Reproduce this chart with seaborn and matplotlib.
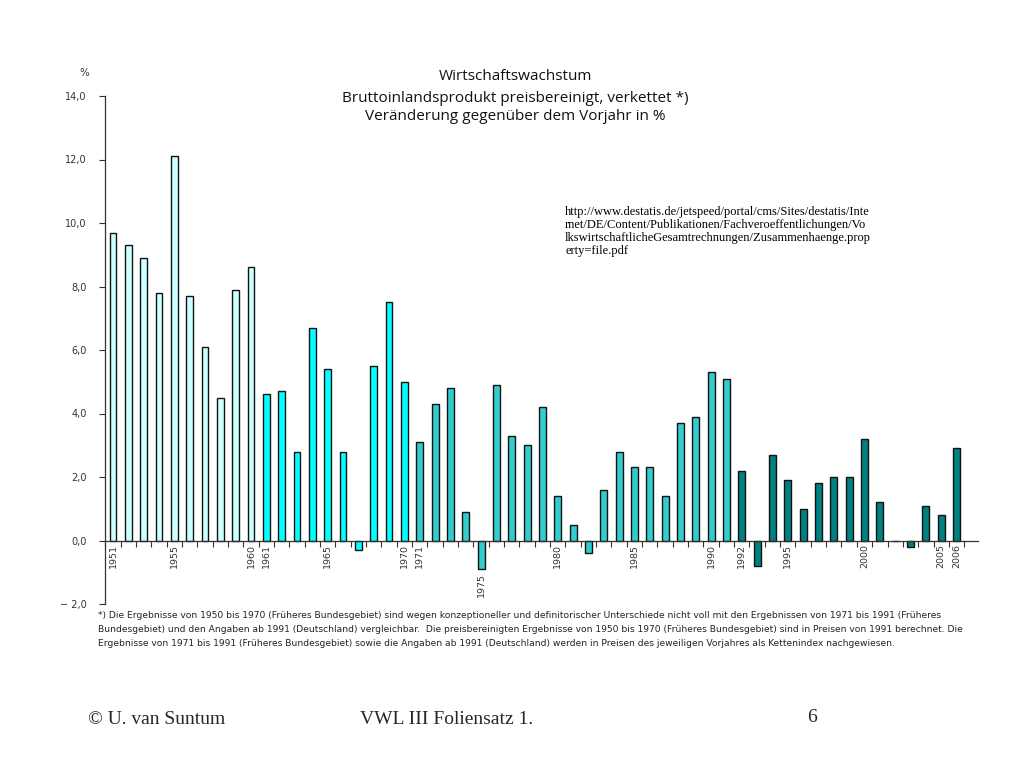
import seaborn as sns
import matplotlib.pyplot as plt
import pandas as pd
import numpy as np

# Real GDP growth, Germany, change vs previous year in %
years = list(range(1951, 2007))
growth = [9.7, 9.3, 8.9, 7.8, 12.1, 7.7, 6.1, 4.5, 7.9, 8.6,
          4.6, 4.7, 2.8, 6.7, 5.4, 2.8, -0.3, 5.5, 7.5, 5.0,
          3.1, 4.3, 4.8, 0.9, -0.9, 4.9, 3.3, 3.0, 4.2, 1.4,
          0.5, -0.4, 1.6, 2.8, 2.3, 2.3, 1.4, 3.7, 3.9, 5.3, 5.1,
          2.2, -0.8, 2.7, 1.9, 1.0, 1.8, 2.0, 2.0, 3.2, 1.2, 0.0, -0.2, 1.1, 0.8, 2.9]
periods = (["1951-1960"] * 10 + ["1961-1970"] * 10 + ["1971-1991"] * 21
           + ["1992-2006"] * 15)
period_colors = {"1951-1960": "#CCFFFF", "1961-1970": "#00FFFF",
                 "1971-1991": "#33CCCC", "1992-2006": "#008080"}
labelled_years = [1951, 1955, 1960, 1961, 1965, 1970, 1971, 1975, 1980,
                  1985, 1990, 1992, 1995, 2000, 2005, 2006]
y_ticks = [-2, 0, 2, 4, 6, 8, 10, 12, 14]

df = pd.DataFrame({"Jahr": [str(y) for y in years], "Wachstum": growth,
                   "Periode": periods})

sns.set_style("white")
plt.rcParams['font.family'] = ['DejaVu Sans']

fig = plt.figure(figsize=(10.24, 7.68), dpi=100)
ax = fig.add_axes([105 / 1024, 1 - 604 / 768, 873 / 1024, 508 / 768])

sns.barplot(data=df, x="Jahr", y="Wachstum", hue="Periode",
            palette=period_colors, saturation=1, dodge=False, width=0.45,
            edgecolor="#111111", linewidth=1.0, legend=False, ax=ax)

ax.set_ylim(-2, 14)
ax.set_xlim(-0.52, 56.4)
ax.set_xlabel("")
ax.set_ylabel("")

# y axis
ax.set_yticks(y_ticks)
ax.set_yticklabels([("\u2212 2,0" if t < 0 else f"{t:.1f}".replace(".", ","))
                    for t in y_ticks], fontsize=7, color="#333333")
ax.tick_params(axis="y", direction="out", length=4, width=0.8,
               color="#333333", left=True, pad=9)

# x axis at zero with ticks between bars
for side in ["top", "right"]:
    ax.spines[side].set_visible(False)
ax.spines["bottom"].set_position(("data", 0))
ax.spines["left"].set_color("#333333")
ax.spines["bottom"].set_color("#333333")
ax.spines["left"].set_linewidth(0.9)
ax.spines["bottom"].set_linewidth(0.9)
ax.set_xticks([])
ax.set_xticks(np.arange(-0.5, len(years), 1.0), minor=True)
ax.tick_params(axis="x", which="minor", direction="out", length=4,
               width=0.8, color="#333333", bottom=True)

for yr in labelled_years:
    i = years.index(yr)
    base = min(growth[i], 0)
    ax.text(i, base - 0.12, str(yr), rotation=90, ha="center", va="top",
            fontsize=6.8, color="#333333")

# titles and annotations
title_lines = ["Wirtschaftswachstum",
               "Bruttoinlandsprodukt preisbereinigt, verkettet *)",
               "Veränderung gegenüber dem Vorjahr in %"]
for line, ypix in zip(title_lines, [77, 98, 117]):
    fig.text(0.503, 1 - ypix / 768, line, ha="center", va="center",
             fontsize=11, family="Open Sans", color="#111111")
fig.text(84 / 1024, 1 - 73 / 768, "%", ha="center", va="center",
         fontsize=7.5, color="#333333")

fig.text(565 / 1024, 1 - 206 / 768,
         "http://www.destatis.de/jetspeed/portal/cms/Sites/destatis/Inte\n"
         "rnet/DE/Content/Publikationen/Fachveroeffentlichungen/Vo\n"
         "lkswirtschaftlicheGesamtrechnungen/Zusammenhaenge.prop\n"
         "erty=file.pdf", ha="left", va="top", fontsize=9,
         family="Liberation Serif", linespacing=1.12, color="black")

fig.text(98 / 1024, 1 - 611 / 768,
         "*) Die Ergebnisse von 1950 bis 1970 (Früheres Bundesgebiet) sind wegen konzeptioneller und definitorischer Unterschiede nicht voll mit den Ergebnissen von 1971 bis 1991 (Früheres\n"
         "Bundesgebiet) und den Angaben ab 1991 (Deutschland) vergleichbar.  Die preisbereinigten Ergebnisse von 1950 bis 1970 (Früheres Bundesgebiet) sind in Preisen von 1991 berechnet. Die\n"
         "Ergebnisse von 1971 bis 1991 (Früheres Bundesgebiet) sowie die Angaben ab 1991 (Deutschland) werden in Preisen des jeweiligen Vorjahres als Kettenindex nachgewiesen.",
         ha="left", va="top", fontsize=6.6, linespacing=1.75, color="#222222")

fig.text(157 / 1024, 1 - 719 / 768, "© U. van Suntum", ha="center",
         va="center", fontsize=14, family="Liberation Serif")
fig.text(447 / 1024, 1 - 719 / 768, "VWL III Foliensatz 1.", ha="center",
         va="center", fontsize=14, family="Liberation Serif")
fig.text(812 / 1024, 1 - 717 / 768, "6", ha="center", va="center",
         fontsize=14, family="Liberation Serif")

fig.savefig("out.png", dpi=100)
